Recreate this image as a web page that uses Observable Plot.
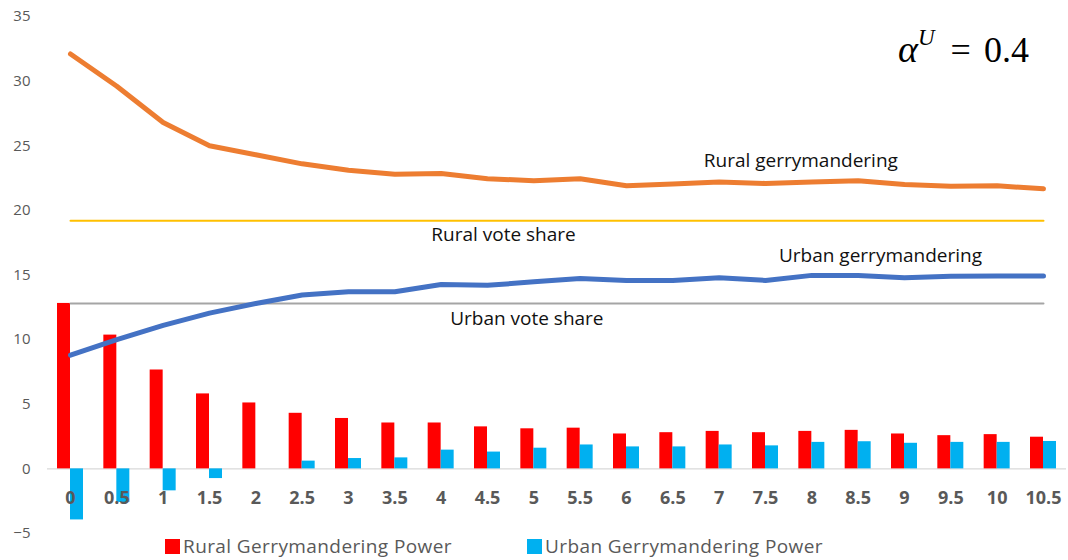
<!DOCTYPE html>
<html><head><meta charset="utf-8">
<script src="https://cdn.jsdelivr.net/npm/d3@7"></script>
<script src="https://cdn.jsdelivr.net/npm/@observablehq/plot@0.6"></script>
<style>
body{margin:0;background:#fff;}
#wrap{position:relative;width:1068px;height:560px;overflow:hidden;font-family:"Open Sans",sans-serif;}
#chart{position:absolute;left:0;top:0;}
#alpha{position:absolute;left:898px;top:30px;font-family:"Liberation Serif","DejaVu Serif",serif;font-size:36px;color:#000;white-space:nowrap;line-height:1;}
#alpha i{font-style:italic;font-size:38px;}
#alpha sup{font-size:23px;position:relative;top:-4px;font-style:italic;vertical-align:top;}
#alpha .eq{margin:0 13px 0 16px;}
#legend{position:absolute;left:0;top:535px;width:1068px;height:23px;font-size:19px;line-height:23px;color:#595959;}
.lg{position:absolute;top:0;display:flex;align-items:center;height:23px;white-space:nowrap;letter-spacing:0.4px;}
.sw{width:15px;height:15px;margin-right:3px;}
</style></head><body><div id="wrap"><div id="chart"></div>
<div id="alpha"><i>α</i><sup>U</sup><span class="eq">=</span>0.4</div>
<div id="legend"></div></div>
<script>
const categories = ["0","0.5","1","1.5","2","2.5","3","3.5","4","4.5","5","5.5","6","6.5","7","7.5","8","8.5","9","9.5","10","10.5"];
const ruralPower = [12.8,10.35,7.65,5.8,5.1,4.3,3.9,3.55,3.55,3.25,3.1,3.15,2.7,2.8,2.9,2.8,2.9,2.98,2.7,2.57,2.65,2.45];
const urbanPower = [-3.95,-2.6,-1.7,-0.75,0,0.6,0.8,0.85,1.45,1.3,1.6,1.85,1.7,1.7,1.85,1.78,2.05,2.1,1.98,2.05,2.05,2.12];
const ruralGerry = [32.1,29.6,26.8,25.0,24.3,23.6,23.1,22.8,22.85,22.45,22.3,22.45,21.9,22.05,22.2,22.08,22.2,22.3,22.0,21.87,21.9,21.67];
const urbanGerry = [8.8,10.0,11.1,12.05,12.8,13.45,13.7,13.7,14.27,14.2,14.47,14.73,14.58,14.58,14.78,14.58,14.97,14.97,14.78,14.9,14.92,14.92];
const ruralVoteShare = 19.2;
const urbanVoteShare = 12.8;
const yTicks = [-5,0,5,10,15,20,25,30,35];
const annotationText = ["Rural gerrymandering","Rural vote share","Urban gerrymandering","Urban vote share"];
const annotationX = ["8","4.5","9","5"];
const annotationY = [23.8,18.1,16.45,11.6];
const annotationDx = [-11,16,-24,-7];
const legendLabels = ["Rural Gerrymandering Power","Urban Gerrymandering Power"];
const legendColors = ["#FF0000","#00B0F0"];

const rows = categories.map((c,i)=>({cat:c, rural:ruralPower[i], urban:urbanPower[i], rg:ruralGerry[i], ug:urbanGerry[i]}));
const annotations = annotationText.map((t,i)=>({text:t, x:annotationX[i], y:annotationY[i], dx:annotationDx[i]}));

const chart = Plot.plot({
  width:1068, height:545,
  marginLeft:47, marginRight:2, marginTop:16, marginBottom:12,
  style:{fontFamily:"Open Sans, sans-serif", background:"transparent"},
  x:{type:"band", domain:categories, paddingInner:0.439, paddingOuter:0.216, round:false, axis:null},
  y:{domain:[-5,35], axis:null},
  marks:[
    Plot.axisY({ticks:yTicks, tickSize:0, tickPadding:17, fontSize:15, fill:"#595959"}),
    Plot.ruleY([0], {stroke:"#D9D9D9", strokeWidth:1.3}),
    Plot.barY(rows, {x:"cat", y:"rural", fill:"#FF0000", insetRight:13}),
    Plot.barY(rows, {x:"cat", y:"urban", fill:"#00B0F0", insetLeft:13}),
    Plot.lineY(categories, {x:d=>d, y:()=>ruralVoteShare, stroke:"#FFC000", strokeWidth:2}),
    Plot.lineY(categories, {x:d=>d, y:()=>urbanVoteShare, stroke:"#A5A5A5", strokeWidth:2}),
    Plot.lineY(rows, {x:"cat", y:"rg", stroke:"#ED7D31", strokeWidth:5, strokeLinecap:"round", strokeLinejoin:"round"}),
    Plot.lineY(rows, {x:"cat", y:"ug", stroke:"#4472C4", strokeWidth:5, strokeLinecap:"round", strokeLinejoin:"round"}),
    Plot.text(categories, {x:d=>d, y:()=>0, dy:29, text:d=>d, fontSize:18, fontWeight:"bold", fill:"#595959"}),
    ...annotations.map(a => Plot.text([a], {x:"x", y:"y", dx:a.dx, text:"text", fontSize:19, fill:"#111", letterSpacing:-0.3}))
  ]
});
document.getElementById("chart").appendChild(chart);

const lg = document.getElementById("legend");
const lgLeft = [165, 527];
legendLabels.forEach((l,i)=>{
  const d = document.createElement("div");
  d.className = "lg";
  d.style.left = lgLeft[i] + "px";
  d.innerHTML = `<span class="sw" style="background:${legendColors[i]}"></span><span>${l}</span>`;
  lg.appendChild(d);
});
</script>
</body></html>
